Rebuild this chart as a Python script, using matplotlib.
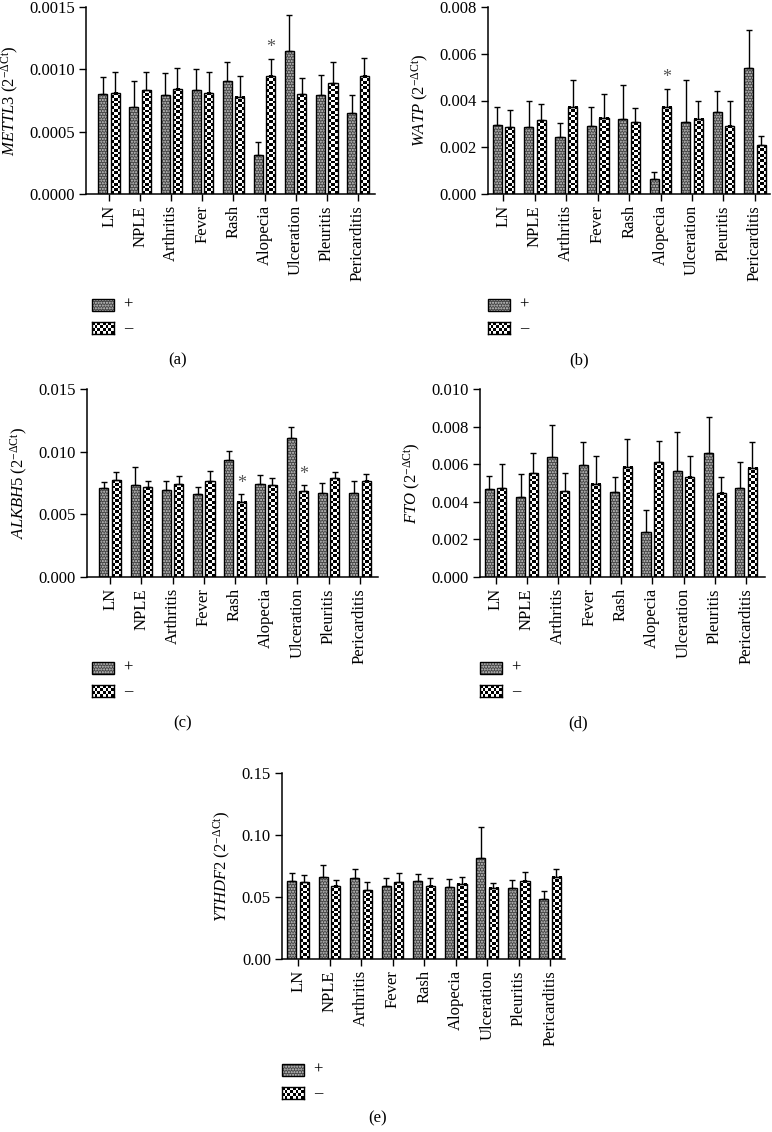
import numpy as np
import matplotlib
matplotlib.use("Agg")
import matplotlib.pyplot as plt
from matplotlib.patches import Rectangle
from matplotlib.ticker import FormatStrFormatter, MultipleLocator

plt.rcParams['font.family'] = ['Liberation Serif', 'DejaVu Serif']
plt.rcParams['mathtext.fontset'] = 'custom'
plt.rcParams['mathtext.rm'] = 'Liberation Serif'
plt.rcParams['mathtext.it'] = 'Liberation Serif:italic'
plt.rcParams['hatch.linewidth'] = 1.0

categories = ["LN", "NPLE", "Arthritis", "Fever", "Rash", "Alopecia",
              "Ulceration", "Pleuritis", "Pericarditis"]
legend_labels = ["+", "\u2013"]

# (a) METTL3
mettl3_pos = [0.00080, 0.00070, 0.000794, 0.000834, 0.000906, 0.00031, 0.00115, 0.000794, 0.000647]
mettl3_pos_err = [0.00094, 0.000909, 0.000973, 0.00100, 0.001056, 0.000417, 0.001433, 0.000957, 0.000797]
mettl3_neg = [0.000813, 0.000834, 0.000845, 0.000813, 0.000781, 0.000947, 0.00080, 0.000888, 0.000947]
mettl3_neg_err = [0.000976, 0.000976, 0.001013, 0.000981, 0.000944, 0.001086, 0.00093, 0.001056, 0.001094]
mettl3_star = [5]

# (b) WATP
watp_pos = [0.00297, 0.00285, 0.00243, 0.00292, 0.00322, 0.00064, 0.00306, 0.00352, 0.00541]
watp_pos_err = [0.00373, 0.00396, 0.00305, 0.00373, 0.00468, 0.00095, 0.00488, 0.00441, 0.0070]
watp_neg = [0.00285, 0.00316, 0.00374, 0.00327, 0.00306, 0.00374, 0.00322, 0.00292, 0.00208]
watp_neg_err = [0.0036, 0.00384, 0.00488, 0.00426, 0.00369, 0.0045, 0.00396, 0.00396, 0.00249]
watp_star = [5]

# (c) ALKBH5
alkbh5_pos = [0.00707, 0.00734, 0.00694, 0.00662, 0.00934, 0.00742, 0.01108, 0.00673, 0.00673]
alkbh5_pos_err = [0.0076, 0.0088, 0.00769, 0.0072, 0.01009, 0.00814, 0.01196, 0.00753, 0.00769]
alkbh5_neg = [0.00771, 0.00715, 0.00742, 0.00763, 0.0060, 0.00734, 0.00686, 0.00787, 0.00769]
alkbh5_neg_err = [0.0084, 0.00769, 0.00809, 0.00843, 0.00659, 0.00787, 0.00731, 0.0084, 0.00825]
alkbh5_star = [4, 6]

# (d) FTO
fto_pos = [0.00466, 0.00427, 0.00637, 0.00594, 0.00452, 0.00242, 0.00564, 0.0066, 0.00473]
fto_pos_err = [0.00539, 0.00546, 0.00806, 0.00717, 0.00532, 0.00354, 0.00772, 0.0085, 0.00614]
fto_neg = [0.00472, 0.00553, 0.00456, 0.00495, 0.00587, 0.0061, 0.00534, 0.00447, 0.0058]
fto_neg_err = [0.0060, 0.00657, 0.00552, 0.00646, 0.00735, 0.00722, 0.00646, 0.00532, 0.00717]
fto_star = []

# (e) YTHDF2
ythdf2_pos = [0.0632, 0.0664, 0.0653, 0.0589, 0.0632, 0.0578, 0.0817, 0.0570, 0.0484]
ythdf2_pos_err = [0.0694, 0.0761, 0.0723, 0.0651, 0.0683, 0.0642, 0.1062, 0.0634, 0.0551]
ythdf2_neg = [0.0618, 0.0591, 0.0554, 0.0618, 0.0589, 0.0608, 0.0575, 0.0632, 0.0664]
ythdf2_neg_err = [0.0675, 0.0640, 0.0621, 0.0694, 0.0656, 0.0664, 0.0616, 0.0699, 0.0723]
ythdf2_star = []

W, H = 772, 1132
fig = plt.figure(figsize=(W / 100, H / 100), dpi=100)


def rect(l, r, t, b):
    return [l / W, 1 - b / H, (r - l) / W, (b - t) / H]


POS_FACE = '#464646'
POS_HATCH = '......'
POS_HCOLOR = '#d0d0d0'
BW = 0.29
OFF = 0.2
SQ = 2.8  # checker square size in pixels


def checker(nrows, ncols):
    return (np.add.outer(np.arange(nrows), np.arange(ncols)) % 2).astype(float)


def pos_bar(ax, x, h):
    ax.bar(x, h, BW, color=POS_FACE, edgecolor=POS_HCOLOR, hatch=POS_HATCH,
           linewidth=0, zorder=2)
    ax.bar(x, h, BW, fill=False, edgecolor='black', linewidth=1.0, zorder=3)


def neg_bar(ax, x, h, px_x, px_y):
    for xi, hi in zip(x, h):
        ncols = max(1, int(round(BW * px_x / SQ)))
        nrows = max(1, int(round(hi * px_y / SQ)))
        ax.imshow(checker(nrows, ncols), cmap='gray', vmin=0, vmax=1,
                  extent=[xi - BW / 2, xi + BW / 2, 0, hi], origin='lower',
                  interpolation='nearest', aspect='auto', zorder=2)
    ax.bar(x, h, BW, fill=False, edgecolor='black', linewidth=1.0, zorder=3)


def legend(lx, ly):
    yc = ly
    r = Rectangle((lx / W, 1 - (yc + 6) / H), 22 / W, 12 / H, transform=fig.transFigure,
                  facecolor=POS_FACE, edgecolor=POS_HCOLOR, hatch=POS_HATCH, linewidth=0)
    fig.add_artist(r)
    fig.add_artist(Rectangle((lx / W, 1 - (yc + 6) / H), 22 / W, 12 / H,
                             transform=fig.transFigure, fill=False,
                             edgecolor='black', linewidth=1.0))
    fig.text((lx + 36) / W, 1 - yc / H, legend_labels[0], ha='center', va='center',
             fontsize=12)
    yc = ly + 23
    lax = fig.add_axes(rect(lx, lx + 22, yc - 6, yc + 6))
    lax.imshow(checker(4, 8), cmap='gray', vmin=0, vmax=1, interpolation='nearest',
               aspect='auto')
    lax.set_xticks([]); lax.set_yticks([])
    for s in lax.spines.values():
        s.set_linewidth(1.0)
    fig.text((lx + 36) / W, 1 - yc / H, legend_labels[1], ha='center', va='center',
             fontsize=12)


def panel(box, xlim, pos, pos_err, neg, neg_err, stars, ymax, step, fmt,
          gene, legend_xy, caption, caption_xy):
    ax = fig.add_axes(rect(*box))
    l, r, t, b = box
    px_x = (r - l) / (xlim[1] - xlim[0])
    px_y = (b - t) / ymax
    x = np.arange(len(categories))
    pos = np.array(pos); neg = np.array(neg)
    pos_err = np.array(pos_err); neg_err = np.array(neg_err)
    pos_bar(ax, x - OFF, pos)
    neg_bar(ax, x + OFF, neg, px_x, px_y)
    ax.errorbar(x - OFF, pos, yerr=[np.zeros_like(pos), pos_err - pos], fmt='none',
                ecolor='black', elinewidth=1.0, capsize=2.2, capthick=1.0, zorder=4)
    ax.errorbar(x + OFF, neg, yerr=[np.zeros_like(neg), neg_err - neg], fmt='none',
                ecolor='black', elinewidth=1.0, capsize=2.2, capthick=1.0, zorder=4)
    for i in stars:
        ax.text(i + OFF, neg_err[i] + ymax * 0.015, '*', ha='center', va='bottom',
                fontsize=13, color='#555555')
    ax.set_xlim(*xlim)
    ax.set_ylim(0, ymax)
    ax.yaxis.set_major_locator(MultipleLocator(step))
    ax.yaxis.set_major_formatter(FormatStrFormatter(fmt))
    ax.set_xticks(x)
    ax.set_xticklabels(categories, rotation=90, fontsize=12)
    ax.tick_params(axis='y', labelsize=12, length=5, width=1.0, pad=3)
    ax.tick_params(axis='x', length=5, width=1.0, pad=3)
    for s in ['top', 'right']:
        ax.spines[s].set_visible(False)
    for s in ['left', 'bottom']:
        ax.spines[s].set_linewidth(1.1)
    ax.set_ylabel(r'$\mathit{%s}\ (2^{-\Delta\mathrm{Ct}})$' % gene, fontsize=12, labelpad=6)
    legend(*legend_xy)
    fig.text(caption_xy[0] / W, 1 - caption_xy[1] / H, caption, ha='center',
             va='center', fontsize=12)
    return ax


panel((86, 375, 7, 194), (-0.74, 8.55), mettl3_pos, mettl3_pos_err, mettl3_neg,
      mettl3_neg_err, mettl3_star, 0.0015, 0.0005, '%.4f', 'METTL3',
      (92, 305), '(a)', (178, 360))
panel((488, 770, 7, 194), (-0.49, 8.48), watp_pos, watp_pos_err, watp_neg,
      watp_neg_err, watp_star, 0.008, 0.002, '%.3f', 'WATP',
      (488, 305), '(b)', (579, 360))
panel((87, 378, 389, 577), (-0.74, 8.58), alkbh5_pos, alkbh5_pos_err, alkbh5_neg,
      alkbh5_neg_err, alkbh5_star, 0.015, 0.005, '%.3f', 'ALKBH5',
      (92, 668), '(c)', (183, 723))
panel((480, 765, 389, 577), (-0.5, 8.6), fto_pos, fto_pos_err, fto_neg,
      fto_neg_err, fto_star, 0.010, 0.002, '%.3f', 'FTO',
      (480, 668), '(d)', (578, 723))
panel((282, 565, 773, 959), (-0.51, 8.47), ythdf2_pos, ythdf2_pos_err, ythdf2_neg,
      ythdf2_neg_err, ythdf2_star, 0.15, 0.05, '%.2f', 'YTHDF2',
      (282, 1070), '(e)', (378, 1118))

fig.savefig('out.png', dpi=100)
